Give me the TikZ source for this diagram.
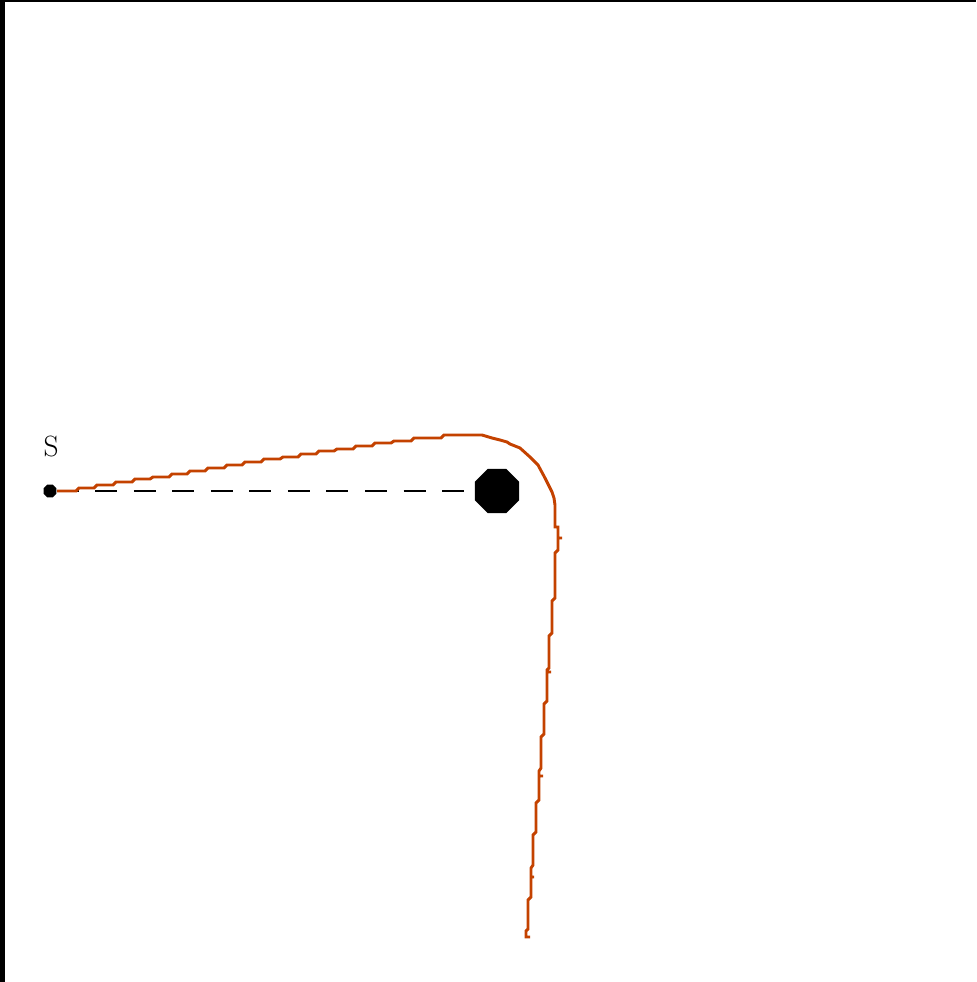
\documentclass[tikz,border=0pt]{standalone}
\usetikzlibrary{shapes.geometric}
\definecolor{trajorange}{RGB}{196,66,0}
\tikzset{
  octo/.style={regular polygon, regular polygon sides=8, fill=black, draw=none, inner sep=0pt},
  traj/.style={draw=trajorange, line width=2.2pt, line join=miter},
  dashline/.style={draw=black, line width=2.2pt, dash pattern=on 16.5pt off 12.4pt},
  lbl/.style={font=\fontsize{22}{24}\selectfont, inner sep=0pt}
}
\begin{document}
\begin{tikzpicture}[x=0.75pt, y=-0.75pt]
\useasboundingbox (0,0) rectangle (976,982);
\fill[white] (0,0) rectangle (976,982);
% frame edges
\fill[black] (0,0) rectangle (5,982);
\fill[black] (0,0) rectangle (976,2);
% nodes
\node[octo, minimum size=10.5pt] (s) at (50,491) {};
\node[lbl] (slabel) at (51,446) {S};
\node[octo, minimum size=36pt] (obst) at (497,491) {};
% dashed line of sight
\draw[dashline] (s) -- (obst);
% trajectory
\coordinate (tstart) at (57,491);
\draw[traj] (tstart) -- (76,491) -- (79,488) -- (94,488) -- (97,485) -- (113,485) -- (116,482)
  -- (132,482) -- (135,479) -- (150,479) -- (153,477) -- (169,477) -- (172,474)
  -- (187,474) -- (190,471) -- (205,471) -- (208,468) -- (224,468) -- (227,465)
  -- (242,465) -- (245,462) -- (261,462) -- (264,459) -- (280,459) -- (283,457)
  -- (298,457) -- (301,454) -- (316,454) -- (319,451) -- (334,451) -- (337,449)
  -- (353,449) -- (356,446) -- (372,446) -- (375,443) -- (391,443) -- (394,441)
  -- (411,441) -- (414,438) -- (441,438) -- (444,435) -- (482,435)
  -- (492,438) -- (500,440) -- (507,442) -- (510,444) -- (520,448) -- (530,457)
  -- (538,465) -- (545,478) -- (552,492) -- (554,498) -- (555,505) -- (555,527)
  -- (558,527) -- (558,538) -- (562,538) -- (558,538) -- (558,550) -- (555,553)
  -- (555,598) -- (552,601) -- (552,633) -- (549,636) -- (549,668) -- (547,670)
  -- (547,672) -- (551,672) -- (547,672) -- (547,701) -- (544,704) -- (544,734)
  -- (541,737) -- (541,768) -- (539,771) -- (539,776) -- (543,776) -- (539,776)
  -- (539,800) -- (536,803) -- (536,832) -- (533,835) -- (533,865) -- (531,868)
  -- (531,877) -- (534,877) -- (531,877) -- (531,897) -- (528,900) -- (528,929)
  -- (526,931) -- (526,937) -- (530,937);
\end{tikzpicture}
\end{document}
